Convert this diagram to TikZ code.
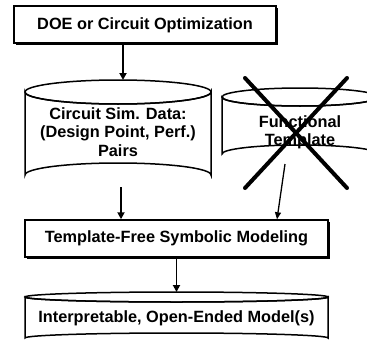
\documentclass[tikz,border=0pt]{standalone}
\usepackage{fontspec}
\setmainfont{Liberation Sans}
\usetikzlibrary{arrows.meta}
\begin{document}
\begin{tikzpicture}[x=1pt,y=-1pt,
  lbl/.style={font=\bfseries\fontsize{16.3}{18.5}\selectfont, align=center, inner sep=0pt},
  procbox/.style={draw, line width=1.5pt, fill=white, inner sep=0pt},
  area/.style={inner sep=0pt},
  cyl/.style={draw, line width=1.5pt, fill=white},
  flow/.style={line width=1.8pt, -{Triangle[length=7pt,width=7pt]}},
  thinflow/.style={line width=1.3pt, -{Triangle[length=7pt,width=6pt]}},
  cross/.style={line width=4pt, line cap=round}]
\useasboundingbox (0,0) rectangle (367,343);
\clip (0,0) rectangle (367,343);

% process boxes with a drop shadow on the lower right
\fill (16,8) rectangle (278,45);
\node[procbox, minimum width=262pt, minimum height=37pt] (doe) at (145,24.5) {};
\node[lbl] at (145,25) {DOE or Circuit Optimization};

\fill (27,222) rectangle (330,259);
\node[procbox, minimum width=303pt, minimum height=37pt] (tfsm) at (176.5,238.5) {};
\node[lbl] at (176.5,238.5) {Template-Free Symbolic Modeling};

% cylinder: circuit simulation data
\path[cyl] (25,92) -- (25,175) arc[start angle=180, end angle=360, x radius=93, y radius=12]
  -- (211,92) arc[start angle=0, end angle=180, x radius=93, y radius=12] -- cycle;
\draw[line width=1.5pt] (118,92) ellipse[x radius=93, y radius=12];
\node[area, minimum width=186pt, minimum height=107pt] (data) at (118,133.5) {};
\node[lbl] at (118,132) {Circuit Sim. Data:\\(Design Point, Perf.)\\Pairs};

% cylinder: functional template
\path[cyl] (222,97) -- (222,154) arc[start angle=180, end angle=360, x radius=78, y radius=9]
  -- (378,97) arc[start angle=0, end angle=180, x radius=78, y radius=9] -- cycle;
\draw[line width=1.5pt] (300,97) ellipse[x radius=78, y radius=9];
\node[area, minimum width=156pt, minimum height=76pt] (tmpl) at (300,125) {};
\node[lbl] at (300,132.5) {Functional\\Template};

% cylinder: resulting models
\path[cyl] (25,297) -- (25,338) arc[start angle=180, end angle=360, x radius=151.5, y radius=5]
  -- (328,297) arc[start angle=0, end angle=180, x radius=151.5, y radius=5] -- cycle;
\draw[line width=1.5pt] (176.5,297) ellipse[x radius=151.5, y radius=5];
\node[area, minimum width=303pt, minimum height=51pt] (model) at (176.5,317.5) {};
\node[lbl] at (176.5,318) {Interpretable, Open-Ended Model(s)};

% template is struck out
\coordinate (x1) at (245,78);
\coordinate (x2) at (347,188);
\coordinate (x3) at (347,78);
\coordinate (x4) at (245,188);
\draw[cross] (x1) -- (x2);
\draw[cross] (x3) -- (x4);

% flow connectors
\draw[flow] (doe.south -| 123,0) -- (123,80);
\draw[flow] (121,187) -- (tfsm.north -| 121,0);
\draw[thinflow] (285,164) -- (tfsm.north -| 277,0);
\draw[flow] (tfsm.south) -- (176.5,292);
\end{tikzpicture}
\end{document}
